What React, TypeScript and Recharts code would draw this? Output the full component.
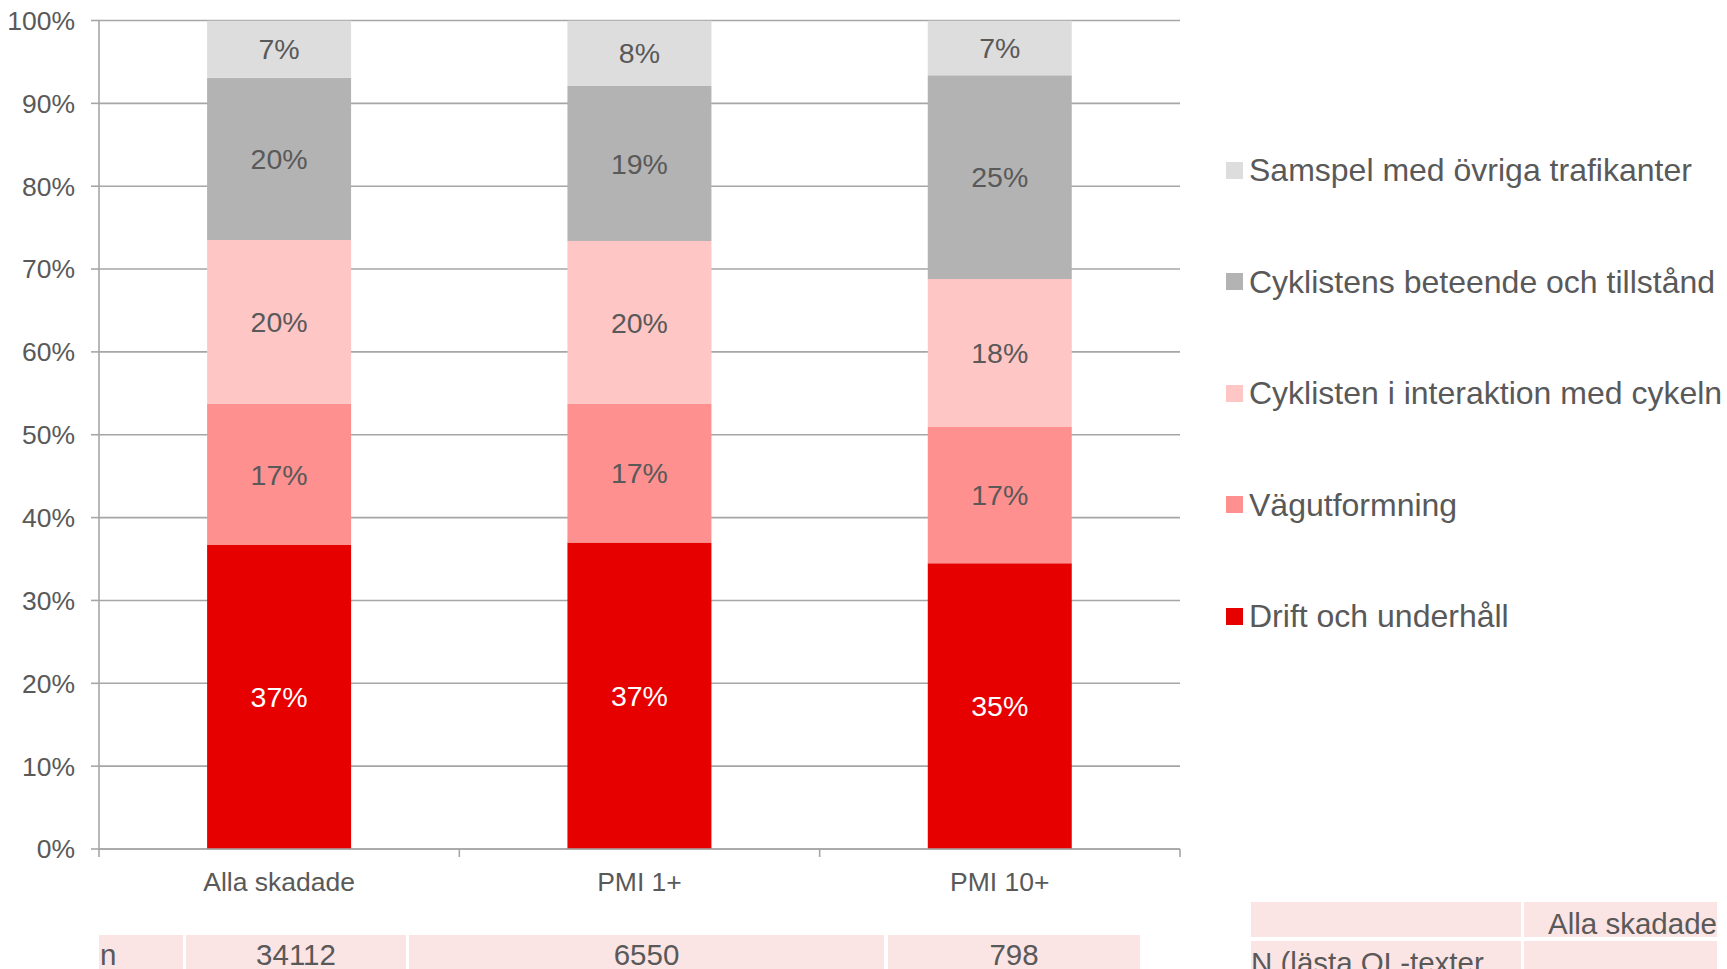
import React from 'react';
import { BarChart, Bar, XAxis, YAxis, CartesianGrid, LabelList, Legend } from 'recharts';

const categories = ['Alla skadade', 'PMI 1+', 'PMI 10+'];
const driftValues = [36.7, 37.0, 34.5];
const vagValues = [17.0, 16.7, 16.5];
const interaktionValues = [19.8, 19.7, 17.8];
const beteendeValues = [19.6, 18.7, 24.6];
const samspelValues = [6.9, 7.9, 6.6];

const yTicks = [0, 10, 20, 30, 40, 50, 60, 70, 80, 90, 100];
const boundaryTicks = [0, 1, 2, 3];

const seriesKeys = ['drift', 'vag', 'interaktion', 'beteende', 'samspel'];
const seriesNames = [
  'Drift och underhåll',
  'Vägutformning',
  'Cyklisten i interaktion med cykeln',
  'Cyklistens beteende och tillstånd',
  'Samspel med övriga trafikanter',
];
const seriesColors = ['#e60000', '#ff9090', '#ffc6c6', '#b3b3b3', '#dddddd'];
const labelColors = ['#ffffff', '#595959', '#595959', '#595959', '#595959'];

const nLabel = 'n';
const nValues = [34112, 6550, 798];
const rightHeader = 'Alla skadade';
const rightRowLabel = 'N (lästa OL-texter';

const data = categories.map((c, i) => ({
  name: c,
  drift: driftValues[i],
  vag: vagValues[i],
  interaktion: interaktionValues[i],
  beteende: beteendeValues[i],
  samspel: samspelValues[i],
}));

const TEXT = '#595959';
const GRID = '#a6a6a6';
const CELL = '#fbe4e4';

const legendContent = () => (
  <div>
    {seriesNames
      .map((n, i) => ({ n, c: seriesColors[i] }))
      .reverse()
      .map((it) => (
        <div key={it.n} style={{ height: 111.5, display: 'flex', alignItems: 'center' }}>
          <div style={{ width: 17, height: 17, background: it.c, marginRight: 6 }} />
          <span style={{ fontSize: 32, color: TEXT, whiteSpace: 'nowrap', lineHeight: 1 }}>{it.n}</span>
        </div>
      ))}
  </div>
);

const cellText: React.CSSProperties = {
  position: 'absolute',
  fontSize: 29.5,
  lineHeight: '29px',
  color: TEXT,
  whiteSpace: 'nowrap',
};

const zeroKey = () => 0;

export default function App() {
  return (
    <div
      style={{
        position: 'absolute',
        left: 0,
        top: 0,
        width: 1727,
        height: 969,
        overflow: 'hidden',
        background: '#fff',
        fontFamily: '"Liberation Sans", Arial, sans-serif',
      }}
    >
      <BarChart
        width={1727}
        height={969}
        data={data}
        margin={{ top: 20.5, right: 547, left: 0, bottom: 0 }}
        barCategoryGap="30%"
      >
        <CartesianGrid vertical={false} stroke={GRID} strokeWidth={1.6} />
        <XAxis
          xAxisId="b_cat"
          dataKey="name"
          height={119}
          tickLine={false}
          axisLine={false}
          tickSize={0}
          tickMargin={22.5}
          tick={{ fill: TEXT, fontSize: 26.5 }}
        />
        <XAxis
          xAxisId="a_num"
          type="number"
          dataKey={zeroKey}
          domain={[0, 3]}
          ticks={boundaryTicks}
          allowDataOverflow
          height={1}
          tickSize={8}
          tickFormatter={() => ''}
          axisLine={{ stroke: GRID, strokeWidth: 1.6 }}
          tickLine={{ stroke: GRID, strokeWidth: 1.6 }}
        />
        <YAxis
          width={99}
          domain={[0, 100]}
          ticks={yTicks}
          allowDataOverflow
          tickFormatter={(v) => `${v}%`}
          tickSize={8}
          tickMargin={16}
          tick={{ fill: TEXT, fontSize: 26.5 }}
          axisLine={{ stroke: GRID, strokeWidth: 1.6 }}
          tickLine={{ stroke: GRID, strokeWidth: 1.6 }}
        />
        <Legend
          layout="vertical"
          align="center"
          verticalAlign="middle"
          content={legendContent}
          wrapperStyle={{ position: 'absolute', left: 1226, top: 114.5, width: 'auto', height: 'auto' }}
        />
        {seriesKeys.map((k, i) => (
          <Bar
            key={k}
            xAxisId="b_cat"
            dataKey={k}
            name={seriesNames[i]}
            stackId="s"
            fill={seriesColors[i]}
            isAnimationActive={false}
          >
            <LabelList
              dataKey={k}
              position="center"
              formatter={(v: any) => `${Math.round(Number(v))}%`}
              fill={labelColors[i]}
              fontSize={28.5}
            />
          </Bar>
        ))}
      </BarChart>

      {/* left n-table */}
      <div style={{ position: 'absolute', left: 99, top: 935, width: 84, height: 40, background: CELL }} />
      <div style={{ position: 'absolute', left: 186, top: 935, width: 220, height: 40, background: CELL }} />
      <div style={{ position: 'absolute', left: 409, top: 935, width: 475, height: 40, background: CELL }} />
      <div style={{ position: 'absolute', left: 888, top: 935, width: 252, height: 40, background: CELL }} />
      <div style={{ ...cellText, left: 100, top: 940 }}>{nLabel}</div>
      <div style={{ ...cellText, left: 186, width: 220, textAlign: 'center', top: 940 }}>{nValues[0]}</div>
      <div style={{ ...cellText, left: 409, width: 475, textAlign: 'center', top: 940 }}>{nValues[1]}</div>
      <div style={{ ...cellText, left: 888, width: 252, textAlign: 'center', top: 940 }}>{nValues[2]}</div>

      {/* right table */}
      <div style={{ position: 'absolute', left: 1251, top: 902, width: 270, height: 35, background: CELL }} />
      <div style={{ position: 'absolute', left: 1524, top: 902, width: 193, height: 35, background: CELL }} />
      <div style={{ position: 'absolute', left: 1251, top: 941, width: 270, height: 40, background: CELL }} />
      <div style={{ position: 'absolute', left: 1524, top: 941, width: 193, height: 40, background: CELL }} />
      <div style={{ ...cellText, left: 1524, width: 193, textAlign: 'right', top: 908.5 }}>{rightHeader}</div>
      <div style={{ ...cellText, left: 1251, top: 948 }}>{rightRowLabel}</div>
    </div>
  );
}
